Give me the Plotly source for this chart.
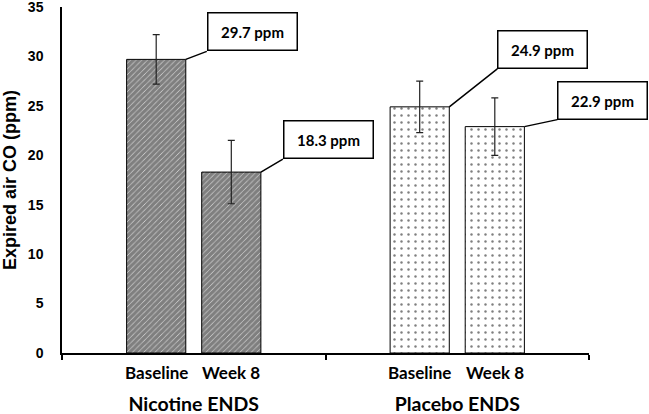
import plotly.graph_objects as go

# ---- data ----
groups = ["Nicotine ENDS", "Placebo ENDS"]
timepoints = ["Baseline", "Week 8"]
baseline_vals = [29.7, 24.9]
week8_vals = [18.3, 22.9]
baseline_err = [2.5, 2.6]
week8_err = [3.2, 2.9]
callout_text = {"Baseline": ["29.7 ppm", "24.9 ppm"], "Week 8": ["18.3 ppm", "22.9 ppm"]}
y_ticks = [0, 5, 10, 15, 20, 25, 30, 35]

# ---- styling ----
BARGAP = 0.43
BARGROUPGAP = 0.212
pattern_shape = ["/", "."]
pattern_size = [4, 7]
pattern_solid = [0.88, 0.1]
label_font = "Lato, Open Sans, Arial, sans-serif"
axis_font = "Liberation Sans, Arial, sans-serif"

fig = go.Figure()
series = [("Baseline", baseline_vals, baseline_err), ("Week 8", week8_vals, week8_err)]
for name, vals, errs in series:
    fig.add_trace(go.Bar(
        name=name, x=groups, y=vals,
        error_y=dict(type="data", array=errs, visible=True, color="#222", thickness=1.2, width=3.5),
        marker=dict(color="white", line=dict(color="black", width=1),
                    pattern=dict(shape=pattern_shape, size=pattern_size, solidity=pattern_solid,
                                 fgcolor="black", bgcolor="white", fillmode="overlay")),
        showlegend=False,
    ))

# bar geometry in category units, derived from bargap settings
slot = (1 - BARGAP) / len(timepoints)
bar_w = slot * (1 - BARGROUPGAP)
offsets = [(i - (len(timepoints) - 1) / 2) * slot for i in range(len(timepoints))]

annotations = []
# sub labels under each bar
for gi, g in enumerate(groups):
    for ti, t in enumerate(timepoints):
        annotations.append(dict(
            x=gi + offsets[ti], xref="x", y=0, yref="paper", yanchor="top", yshift=-7,
            text="<b>%s</b>" % t, showarrow=False,
            font=dict(family=label_font, size=17, color="black")))

# callout boxes (pixel offsets of the box corner from the bar's top-right corner)
callout_offsets = {"Baseline": [(21, -8), (48, -38)], "Week 8": [(22, -13), (33, -7)]}
for ti, (name, vals, errs) in enumerate(series):
    for gi, g in enumerate(groups):
        ax, ay = callout_offsets[name][gi]
        annotations.append(dict(
            x=gi + offsets[ti] + bar_w / 2, xref="x", y=vals[gi], yref="y",
            ax=ax, ay=ay, axref="pixel", ayref="pixel",
            xanchor="left", yanchor="bottom",
            text="<b>%s</b>" % callout_text[name][gi],
            showarrow=True, arrowhead=0, arrowwidth=1.5, arrowcolor="black",
            bordercolor="black", borderwidth=1.5, borderpad=1, bgcolor="white",
            width=86, height=34, align="center", valign="middle",
            font=dict(family=label_font, size=15, color="black")))

fig.update_layout(
    width=649, height=414,
    margin=dict(l=62, r=60, t=7, b=61, autoexpand=False),
    paper_bgcolor="white", plot_bgcolor="white",
    barmode="group", bargap=BARGAP, bargroupgap=BARGROUPGAP,
    annotations=annotations,
    xaxis=dict(type="category", range=[-0.5, len(groups) - 0.5], autorange=False,
               showline=True, linecolor="black", linewidth=1.5,
               ticks="outside", tickson="boundaries", ticklen=5, tickcolor="black", tickwidth=1.5,
               showgrid=False, ticklabelstandoff=33, automargin=False,
               tickfont=dict(family=label_font, size=19.5, color="black", weight="bold")),
    yaxis=dict(range=[0, 35], autorange=False, tickvals=y_ticks, showline=True,
               linecolor="black", linewidth=1.5, ticklabeloverflow="allow",
               showgrid=False, zeroline=False, ticks="", ticklabelstandoff=14, automargin=False,
               tickfont=dict(family=axis_font, size=14, color="black", weight="bold"),
               title=dict(text="Expired air CO (ppm)", standoff=8,
                          font=dict(family=axis_font, size=18, color="black", weight="bold"))),
)

fig.write_html("out.html", config={"displayModeBar": False},
               post_script="document.body.style.margin='0px';")
